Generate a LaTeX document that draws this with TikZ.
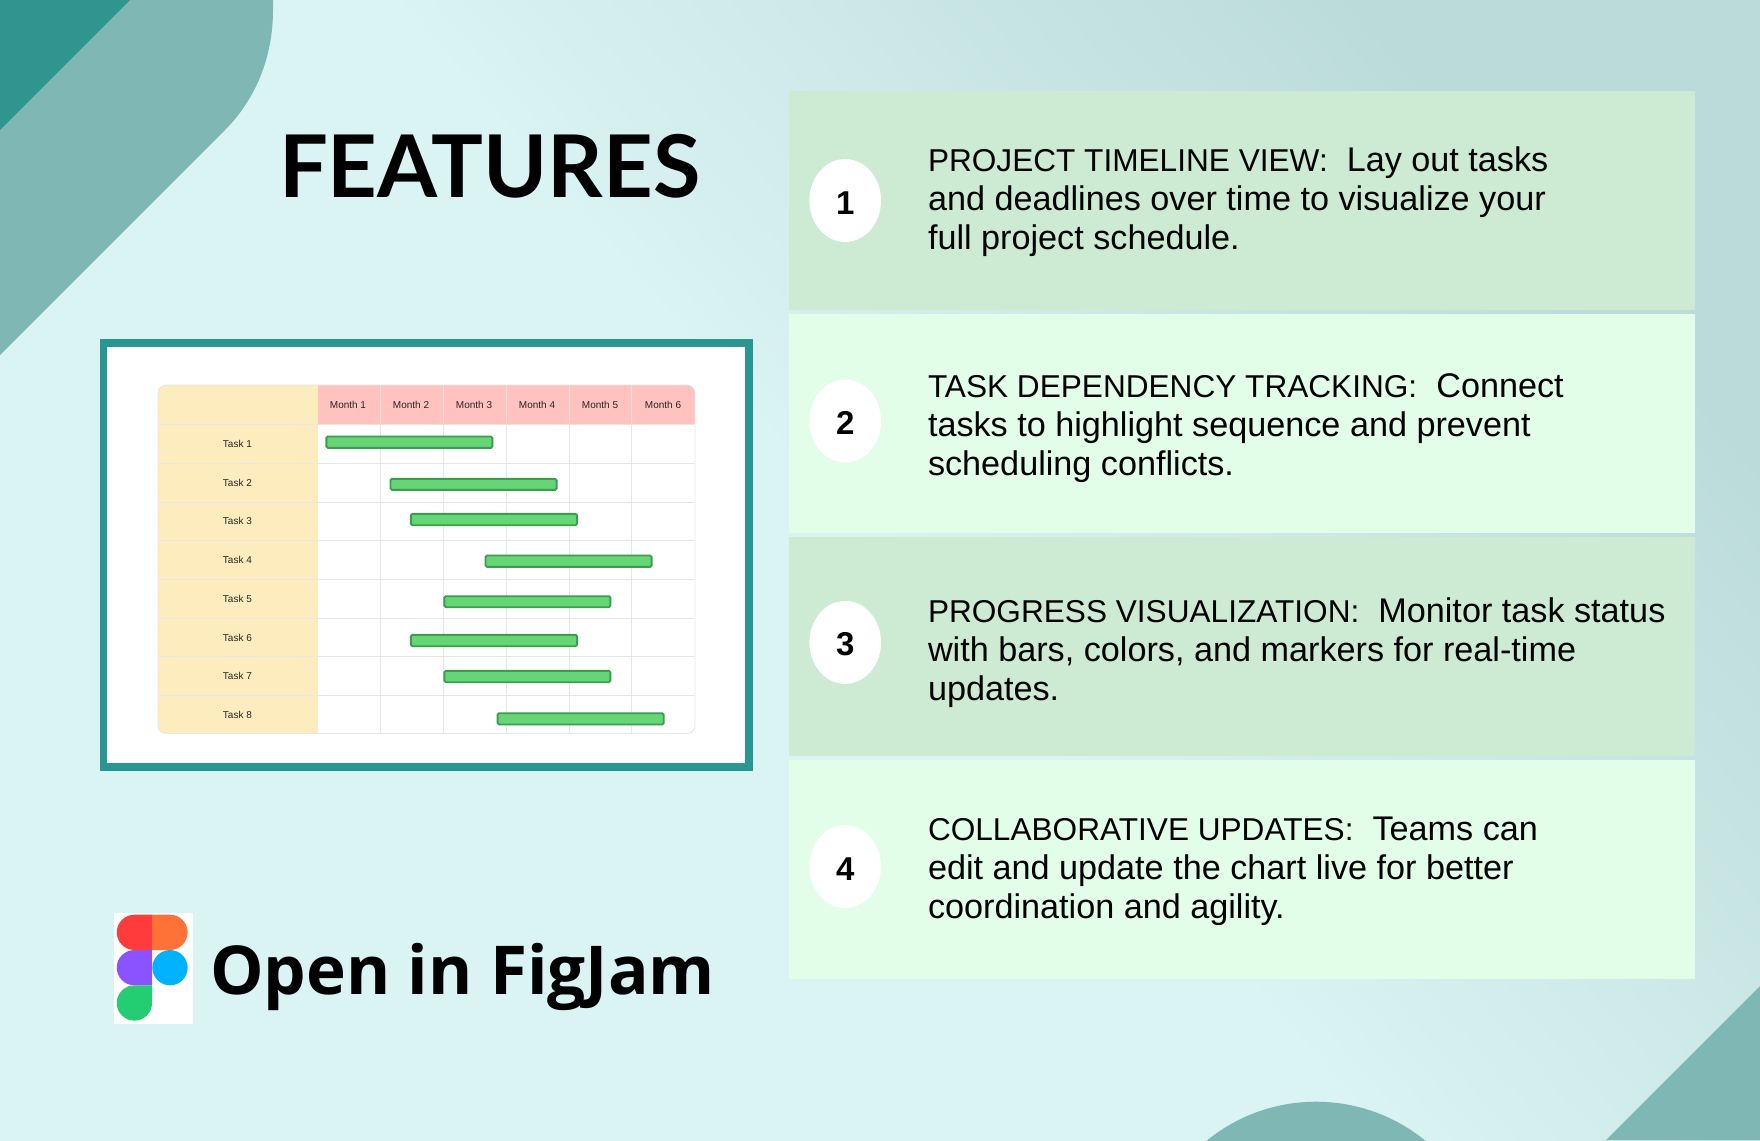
\documentclass[tikz,border=0pt]{standalone}
\usepackage{fontspec}
\usetikzlibrary{shapes.geometric}
\setmainfont{Open Sans}
\newfontfamily\bodyfont{Liberation Sans}
\newfontfamily\titlefont{Lato}
\newcommand{\leadin}[1]{{\fontsize{31.6}{39}\selectfont #1}}
\definecolor{bgpale}{HTML}{DAF3F3}
\definecolor{bgdark}{HTML}{BBDBDA}
\definecolor{shapelight}{HTML}{7FB7B5}
\definecolor{shapedark}{HTML}{30958E}
\definecolor{framecol}{HTML}{289692}
\definecolor{rowdark}{HTML}{CDEAD3}
\definecolor{rowlight}{HTML}{E2FDE8}
\definecolor{taskcol}{HTML}{FDECBD}
\definecolor{monthcol}{HTML}{FFC2BF}
\definecolor{gridcol}{HTML}{E6E6E6}
\definecolor{barfill}{HTML}{66D575}
\definecolor{bardraw}{HTML}{3A9E4E}
\definecolor{figred}{HTML}{FF3B3B}
\definecolor{figorange}{HTML}{FF7237}
\definecolor{figviolet}{HTML}{8B53FF}
\definecolor{figblue}{HTML}{00B2FF}
\definecolor{figgreen}{HTML}{24CC72}
\begin{document}
\begin{tikzpicture}[x=1pt, y=-1pt,
  every node/.style = {inner sep=0pt, outer sep=0pt, text=black}]
    \tikzstyle{panel dark}=[fill=rowdark]
    \tikzstyle{panel light}=[fill=rowlight]
    \tikzstyle{badge}=[shape=ellipse, fill=white, minimum width=71.7pt, minimum height=83pt]
    \tikzstyle{badge text}=[font=\fontsize{33}{33}\bodyfont\bfseries, text height=27.5pt]
    \tikzstyle{feature}=[anchor=west, align=left, font=\fontsize{34.2}{39}\bodyfont]
    \tikzstyle{tiny}=[font=\fontsize{10}{10}\bodyfont, text=black!85]
    \tikzstyle{gantt bar}=[fill=barfill, draw=bardraw, line width=1.9pt, rounded corners=1.5pt]
    \tikzstyle{grid line}=[draw=gridcol, line width=0.8pt]
  \useasboundingbox (0,0) rectangle (1760,1140);
  \clip (0,0) rectangle (1760,1140);
  \shade [top color=bgdark, bottom color=bgpale, middle color=bgpale, shading angle=-49] (0,0) rectangle (1760,1140);
  \fill [shapelight] (0,0) -- (273,0) -- (273,10) .. controls (273,55) and (257,98) .. (225,130) -- (0,355) -- cycle;
  \fill [shapedark] (0,0) -- (130,0) -- (0,130) -- cycle;
  \fill [shapelight] (1316,1274.5) circle [radius=172.8pt];
  \fill [shapelight] (1606,1140) -- (1760,986) -- (1760,1140) -- cycle;
  \node [anchor=base west, font=\fontsize{86.5}{86.5}\titlefont\bfseries] (title) at (279,197) {FEATURES};
  \fill [framecol] (99.5,339) rectangle (753,771);
  \fill [white] (107.3,346.7) rectangle (745,763.3);
  \begin{scope}
    \clip [rounded corners=8pt] (158,385) rectangle (695,733.5);
    \fill [taskcol] (158,385) rectangle (317.8,733.5);
    \fill [monthcol] (317.8,385) rectangle (695,424.5);
    \draw [grid line] (380.5,424.5) -- (380.5,733.5);
    \draw [grid line] (443.4,424.5) -- (443.4,733.5);
    \draw [grid line] (506.3,424.5) -- (506.3,733.5);
    \draw [grid line] (569.2,424.5) -- (569.2,733.5);
    \draw [grid line] (631.6,424.5) -- (631.6,733.5);
    \draw [draw=black!12, line width=0.7pt] (380.5,385) -- (380.5,424.5);
    \draw [draw=black!12, line width=0.7pt] (443.4,385) -- (443.4,424.5);
    \draw [draw=black!12, line width=0.7pt] (506.3,385) -- (506.3,424.5);
    \draw [draw=black!12, line width=0.7pt] (569.2,385) -- (569.2,424.5);
    \draw [draw=black!12, line width=0.7pt] (631.6,385) -- (631.6,424.5);
    \draw [grid line] (158,424.5) -- (695,424.5);
    \draw [grid line] (158,463.2) -- (695,463.2);
    \draw [grid line] (158,501.9) -- (695,501.9);
    \draw [grid line] (158,540.6) -- (695,540.6);
    \draw [grid line] (158,579.3) -- (695,579.3);
    \draw [grid line] (158,618) -- (695,618);
    \draw [grid line] (158,656.7) -- (695,656.7);
    \draw [grid line] (158,695.4) -- (695,695.4);
  \end{scope}
  \draw [grid line, rounded corners=8pt] (158,385) rectangle (695,733.5);
  \node [tiny] (month1) at (348,405.2) {Month 1};
  \node [tiny] (month2) at (411,405.2) {Month 2};
  \node [tiny] (month3) at (474,405.2) {Month 3};
  \node [tiny] (month4) at (537,405.2) {Month 4};
  \node [tiny] (month5) at (600,405.2) {Month 5};
  \node [tiny] (month6) at (663,405.2) {Month 6};
  \node [tiny] (task1) at (237.4,444) {Task 1};
  \node [tiny] (task2) at (237.4,483) {Task 2};
  \node [tiny] (task3) at (237.4,521.4) {Task 3};
  \node [tiny] (task4) at (237.4,560) {Task 4};
  \node [tiny] (task5) at (237.4,599) {Task 5};
  \node [tiny] (task6) at (237.4,637.7) {Task 6};
  \node [tiny] (task7) at (237.4,676.4) {Task 7};
  \node [tiny] (task8) at (237.4,715) {Task 8};
  \draw [gantt bar] (326.3,436.5) rectangle (492.4,447.8);
  \draw [gantt bar] (390.5,478.8) rectangle (556.6,489.8);
  \draw [gantt bar] (410.9,513.8) rectangle (577,525.2);
  \draw [gantt bar] (485.5,555.5) rectangle (651.6,566.8);
  \draw [gantt bar] (444.3,596.2) rectangle (610.4,607.2);
  \draw [gantt bar] (410.9,634.8) rectangle (577,646.2);
  \draw [gantt bar] (444.3,670.8) rectangle (610.4,682.2);
  \draw [gantt bar] (497.6,713.2) rectangle (663.7,724.5);
  \fill [panel dark] (789,91) rectangle (1695,310);
  \fill [panel light] (789,313.7) rectangle (1695,532.7);
  \fill [panel dark] (789,536.7) rectangle (1695,755.7);
  \fill [panel light] (789,760) rectangle (1695,979);
  \node [badge, badge text] (badge1) at (845.2,200.5) {1};
  \node [badge, badge text] (badge2) at (845.2,421) {2};
  \node [badge, badge text] (badge3) at (845.2,642.4) {3};
  \node [badge, badge text] (badge4) at (845.2,866.5) {4};
  \node [feature] (feature1) at (928,202) {\leadin{PROJECT TIMELINE VIEW:}\ \ Lay out tasks\\and deadlines over time to visualize your\\full project schedule.};
  \node [feature] (feature2) at (928,428.5) {\leadin{TASK DEPENDENCY TRACKING:}\ \ Connect\\tasks to highlight sequence and prevent\\scheduling conflicts.};
  \node [feature] (feature3) at (928,652.5) {\leadin{PROGRESS VISUALIZATION:}\ \ Monitor task status\\with bars, colors, and markers for real-time\\updates.};
  \node [feature] (feature4) at (928,871.5) {\leadin{COLLABORATIVE UPDATES:}\ \ Teams can\\edit and update the chart live for better\\coordination and agility.};
  \fill [white] (114,912.7) rectangle (192.7,1023.7);
  \fill [figred] (152,914.7) -- (134.4,914.7) arc [start angle=90, end angle=270, radius=17.65pt] -- (152,950) -- cycle;
  \fill [figorange] (152,914.7) -- (170,914.7) arc [start angle=90, end angle=-90, radius=17.65pt] -- (152,950) -- cycle;
  \fill [figviolet] (152,950) -- (134.4,950) arc [start angle=90, end angle=270, radius=17.65pt] -- (152,985.3) -- cycle;
  \fill [figblue] (170,967.7) circle [radius=17.65pt];
  \fill [figgreen] (152,985.3) -- (134.4,985.3) arc [start angle=90, end angle=270, radius=17.65pt] arc [start angle=-90, end angle=0, radius=17.65pt] -- cycle;
  \node [anchor=base west, font=\fontsize{67.4}{67.4}\selectfont\bfseries] (figjam) at (210,994) {Open in FigJam};
\end{tikzpicture}
\end{document}
